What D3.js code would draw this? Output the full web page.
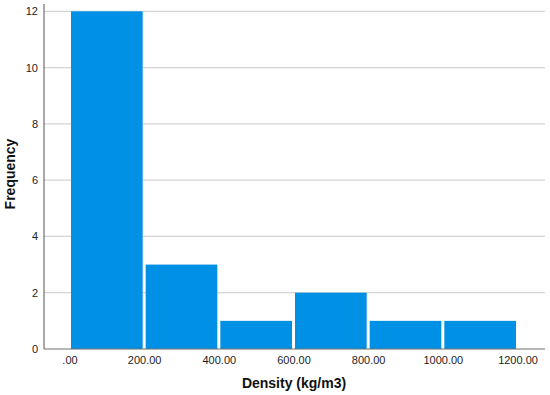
<!DOCTYPE html>
<html><head><meta charset="utf-8">
<script src="https://cdn.jsdelivr.net/npm/d3@7"></script>
<style>body{margin:0;background:#fff}svg{display:block}text{font-family:"Liberation Sans",Arial,sans-serif}</style>
</head><body><svg id="c" width="550" height="395"></svg>
<script>
const binStarts = [0, 200, 400, 600, 800, 1000];
const binEnds = [200, 400, 600, 800, 1000, 1200];
const frequencies = [12, 3, 1, 2, 1, 1];
const xTicks = [0, 200, 400, 600, 800, 1000, 1200];
const yTicks = [0, 2, 4, 6, 8, 10, 12];

(function(){
const svg = d3.select("#c");
const mLeft = 44, mRight = 545, mTop = 11.3, mBottom = 349;
const x = d3.scaleLinear().domain([0, 1200]).range([69.5, 517.5]);
const y = d3.scaleLinear().domain([0, 12]).range([mBottom, mTop]);

// gridlines
svg.append("g").selectAll("line").data(yTicks.filter(d => d > 0)).join("line")
  .attr("x1", mLeft).attr("x2", mRight)
  .attr("y1", d => y(d)).attr("y2", d => y(d))
  .attr("stroke", "#d4d4d4").attr("stroke-width", 1.2);

// bars
const data = binStarts.map((s, i) => ({s, e: binEnds[i], f: frequencies[i]}));
svg.append("g").selectAll("rect").data(data).join("rect")
  .attr("x", d => x(d.s) + 1.5)
  .attr("width", d => x(d.e) - x(d.s) - 3)
  .attr("y", d => y(d.f))
  .attr("height", d => y(0) - y(d.f))
  .attr("fill", "#0091e6");

// axes lines
svg.append("line").attr("x1", mLeft).attr("x2", mLeft).attr("y1", 4).attr("y2", mBottom)
  .attr("stroke", "#6e6e6e").attr("stroke-width", 1.2);
svg.append("line").attr("x1", mLeft).attr("x2", mRight).attr("y1", mBottom).attr("y2", mBottom)
  .attr("stroke", "#6e6e6e").attr("stroke-width", 1.2);

// y tick labels
const yAxis = d3.axisLeft(y).tickValues(yTicks).tickSize(0).tickPadding(6).tickFormat(d3.format("d"));
const gy = svg.append("g").attr("transform", `translate(${mLeft},0)`).call(yAxis);
gy.select(".domain").remove();
gy.selectAll("text").attr("font-size", 11).attr("fill", "#222").attr("font-family", "Liberation Sans, Arial, sans-serif");

// x tick labels
const fmt = d => d === 0 ? ".00" : d3.format(".2f")(d);
const xAxis = d3.axisBottom(x).tickValues(xTicks).tickSize(0).tickPadding(7).tickFormat(fmt);
const gx = svg.append("g").attr("transform", `translate(0,${mBottom})`).call(xAxis);
gx.select(".domain").remove();
gx.selectAll("text").attr("font-size", 11).attr("fill", "#222").attr("font-family", "Liberation Sans, Arial, sans-serif");

// titles
svg.append("text").attr("x", 294).attr("y", 388).attr("text-anchor", "middle")
  .attr("font-size", 14).attr("font-weight", "bold").attr("fill", "#111").text("Density (kg/m3)");
svg.append("text").attr("transform", "translate(15,174) rotate(-90)").attr("text-anchor", "middle")
  .attr("font-size", 14).attr("font-weight", "bold").attr("fill", "#111").text("Frequency");
})();
</script></body></html>
